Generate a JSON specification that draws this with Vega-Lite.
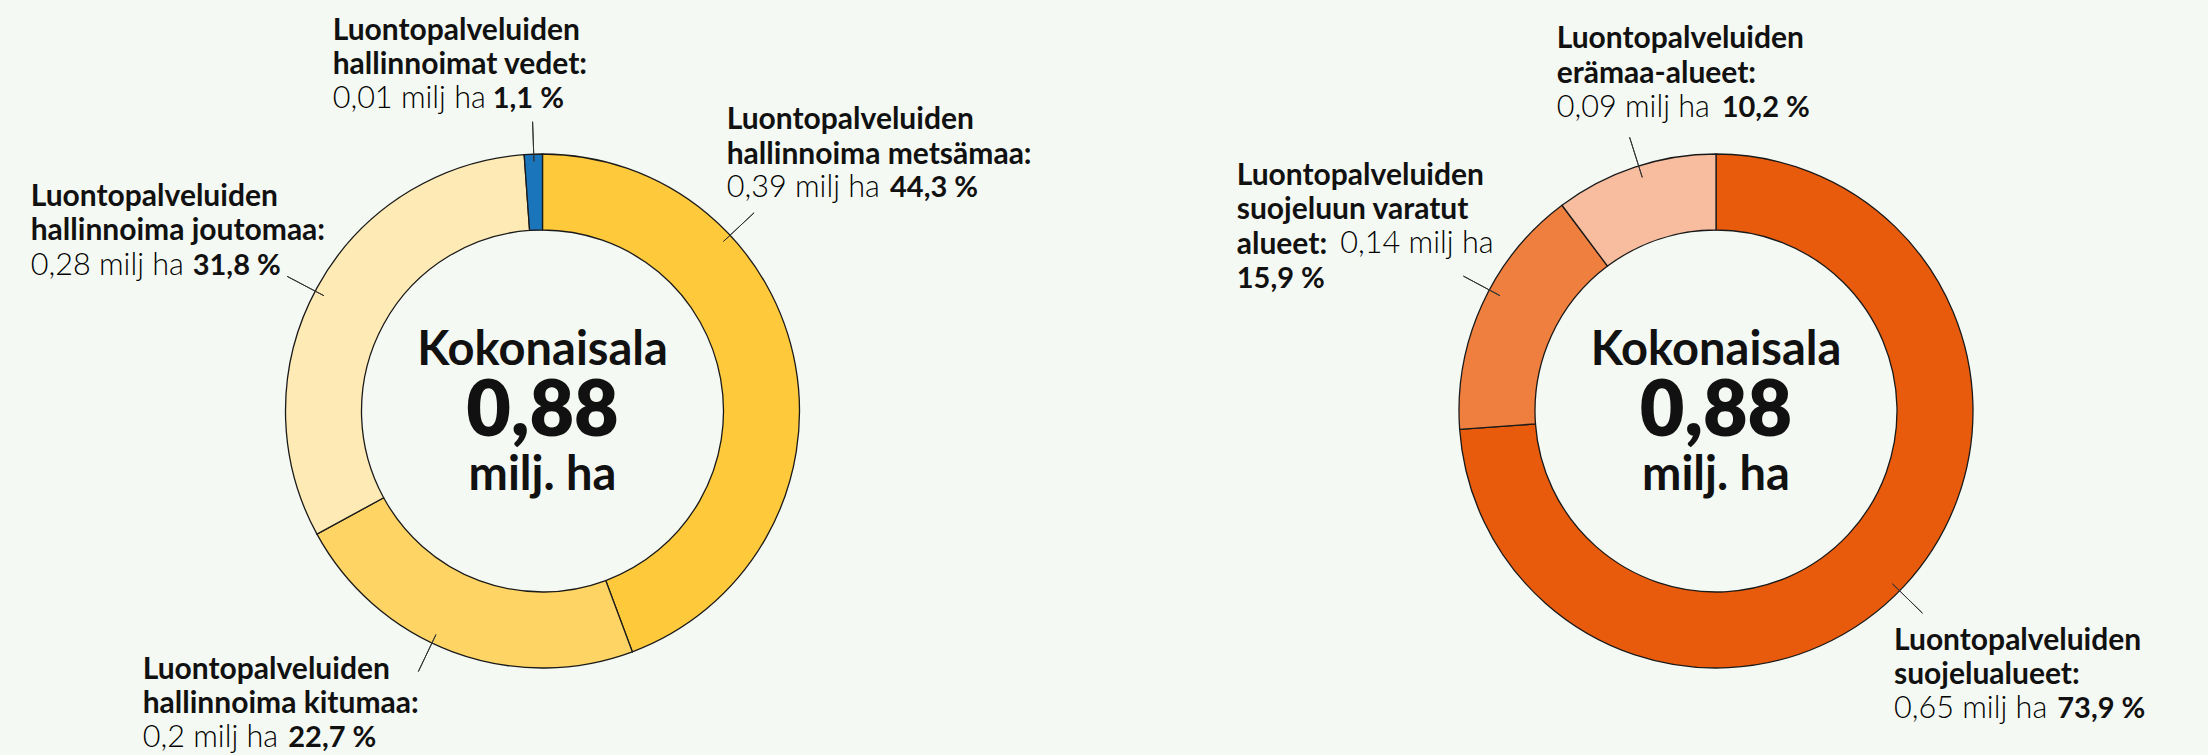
{
  "$schema": "https://vega.github.io/schema/vega-lite/v6.json",
  "width": 2208,
  "height": 688,
  "autosize": {"type": "none"},
  "padding": {"top": 67, "left": 0, "right": 0, "bottom": 0},
  "background": "#f5f9f3",
  "config": {
    "view": {"stroke": null},
    "locale": {"number": {"decimal": ",", "thousands": " ", "grouping": [3], "currency": ["", " milj ha"], "percent": " %"}}
  },
  "data": {
    "values": [
      {"kartta": "hallinta", "n": 1, "id": "metsa", "nimi": "Luontopalveluiden\nhallinnoima metsämaa:", "ha": 0.39, "osuus": 0.443},
      {"kartta": "hallinta", "n": 2, "id": "kitu", "nimi": "Luontopalveluiden\nhallinnoima kitumaa:", "ha": 0.2, "osuus": 0.227},
      {"kartta": "hallinta", "n": 3, "id": "jouto", "nimi": "Luontopalveluiden\nhallinnoima joutomaa:", "ha": 0.28, "osuus": 0.318},
      {"kartta": "hallinta", "n": 4, "id": "vedet", "nimi": "Luontopalveluiden\nhallinnoimat vedet:", "ha": 0.01, "osuus": 0.011},
      {"kartta": "suojelu", "n": 1, "id": "suojelu", "nimi": "Luontopalveluiden\nsuojelualueet:", "ha": 0.65, "osuus": 0.739},
      {"kartta": "suojelu", "n": 2, "id": "varattu", "nimi": "Luontopalveluiden\nsuojeluun varatut\nalueet:", "ha": 0.14, "osuus": 0.159},
      {"kartta": "suojelu", "n": 3, "id": "eramaa", "nimi": "Luontopalveluiden\nerämaa-alueet:", "ha": 0.09, "osuus": 0.102}
    ]
  },
  "transform": [
    {"stack": "ha", "groupby": ["kartta"], "sort": [{"field": "n", "order": "ascending"}], "as": ["s0", "s1"]}
  ],
  "encoding": {
    "x": {"field": "kartta", "type": "nominal", "axis": null, "scale": {"type": "point", "padding": 0.440775, "align": 0.52441, "round": false}}
  },
  "layer": [
    {
      "mark": {"type": "arc", "radius": 257, "radius2": 181, "stroke": "#1a1a1a", "strokeWidth": 1.3},
      "encoding": {
        "theta": {"field": "s0", "type": "quantitative", "stack": null, "scale": {"domain": [0, 0.88]}},
        "theta2": {"field": "s1"},
        "color": {"field": "id", "type": "nominal", "legend": null,
          "scale": {"domain": ["metsa", "kitu", "jouto", "vedet", "suojelu", "varattu", "eramaa"],
                    "range": ["#fec93b", "#fed565", "#feeab4", "#1b75bb", "#e95b0c", "#ee7f3f", "#f8bd9f"]}}
      }
    },
    {"transform": [{"filter": "datum.id === 'metsa'"}],
     "mark": {"type": "arc", "radius": 290, "radius2": 248, "thetaOffset": 0.8179, "theta2Offset": 0.8179, "stroke": "#333333", "strokeWidth": 1, "fillOpacity": 0},
     "encoding": {"theta": {"field": "s0", "type": "quantitative", "stack": null}, "theta2": {"field": "s0"}}},
    {"transform": [{"filter": "datum.id === 'kitu'"}],
     "mark": {"type": "arc", "radius": 288.6, "radius2": 247.6, "thetaOffset": 0.8017, "theta2Offset": 0.8017, "stroke": "#333333", "strokeWidth": 1, "fillOpacity": 0},
     "encoding": {"theta": {"field": "s0", "type": "quantitative", "stack": null}, "theta2": {"field": "s0"}}},
    {"transform": [{"filter": "datum.id === 'jouto'"}],
     "mark": {"type": "arc", "radius": 288.8, "radius2": 247, "thetaOffset": 0.98505, "theta2Offset": 0.98505, "stroke": "#333333", "strokeWidth": 1, "fillOpacity": 0},
     "encoding": {"theta": {"field": "s0", "type": "quantitative", "stack": null}, "theta2": {"field": "s0"}}},
    {"transform": [{"filter": "datum.id === 'vedet'"}],
     "mark": {"type": "arc", "radius": 289.5, "radius2": 249.7, "thetaOffset": 0.03718, "theta2Offset": 0.03718, "stroke": "#333333", "strokeWidth": 1, "fillOpacity": 0},
     "encoding": {"theta": {"field": "s0", "type": "quantitative", "stack": null}, "theta2": {"field": "s0"}}},
    {"transform": [{"filter": "datum.id === 'suojelu'"}],
     "mark": {"type": "arc", "radius": 289, "radius2": 247, "thetaOffset": 2.34572, "theta2Offset": 2.34572, "stroke": "#333333", "strokeWidth": 1, "fillOpacity": 0},
     "encoding": {"theta": {"field": "s0", "type": "quantitative", "stack": null}, "theta2": {"field": "s0"}}},
    {"transform": [{"filter": "datum.id === 'varattu'"}],
     "mark": {"type": "arc", "radius": 286.4, "radius2": 244.9, "thetaOffset": 0.56182, "theta2Offset": 0.56182, "stroke": "#333333", "strokeWidth": 1, "fillOpacity": 0},
     "encoding": {"theta": {"field": "s0", "type": "quantitative", "stack": null}, "theta2": {"field": "s0"}}},
    {"transform": [{"filter": "datum.id === 'eramaa'"}],
     "mark": {"type": "arc", "radius": 287, "radius2": 245, "thetaOffset": 0.33685, "theta2Offset": 0.33685, "stroke": "#333333", "strokeWidth": 1, "fillOpacity": 0},
     "encoding": {"theta": {"field": "s0", "type": "quantitative", "stack": null}, "theta2": {"field": "s0"}}},

    {"transform": [{"filter": "datum.id === 'vedet'"}],
     "mark": {"type": "text", "font": "Lato", "fontSize": 30, "fontWeight": 700, "align": "left", "baseline": "alphabetic", "lineBreak": "\n", "lineHeight": 34.3, "radius": 289, "dx": -189.2, "dy": -82.7, "color": "#111111"},
     "encoding": {"theta": {"field": "s0", "type": "quantitative", "stack": null}, "text": {"field": "nimi"}}},
    {"transform": [{"filter": "datum.id === 'vedet'"}],
     "mark": {"type": "text", "font": "Lato", "fontSize": 30.6, "fontWeight": 300, "align": "left", "baseline": "alphabetic", "radius": 289, "dx": -189.2, "dy": -14.4, "color": "#000000"},
     "encoding": {"theta": {"field": "s0", "type": "quantitative", "stack": null}, "text": {"field": "ha", "type": "quantitative", "format": "$.2~f"}}},
    {"transform": [{"filter": "datum.id === 'vedet'"}],
     "mark": {"type": "text", "font": "Lato", "fontSize": 29, "fontWeight": 700, "align": "left", "baseline": "alphabetic", "radius": 289, "dx": -29.2, "dy": -14.4, "color": "#111111"},
     "encoding": {"theta": {"field": "s0", "type": "quantitative", "stack": null}, "text": {"field": "osuus", "type": "quantitative", "format": ".1%"}}},

    {"transform": [{"filter": "datum.id === 'metsa'"}],
     "mark": {"type": "text", "font": "Lato", "fontSize": 30, "fontWeight": 700, "align": "left", "baseline": "alphabetic", "lineBreak": "\n", "lineHeight": 34.3, "radius": 289, "dx": 184.2, "dy": 7.3, "color": "#111111"},
     "encoding": {"theta": {"field": "s0", "type": "quantitative", "stack": null}, "text": {"field": "nimi"}}},
    {"transform": [{"filter": "datum.id === 'metsa'"}],
     "mark": {"type": "text", "font": "Lato", "fontSize": 30.6, "fontWeight": 300, "align": "left", "baseline": "alphabetic", "radius": 289, "dx": 184.2, "dy": 75.3, "color": "#000000"},
     "encoding": {"theta": {"field": "s0", "type": "quantitative", "stack": null}, "text": {"field": "ha", "type": "quantitative", "format": "$.2~f"}}},
    {"transform": [{"filter": "datum.id === 'metsa'"}],
     "mark": {"type": "text", "font": "Lato", "fontSize": 29, "fontWeight": 700, "align": "left", "baseline": "alphabetic", "radius": 289, "dx": 347.5, "dy": 75.3, "color": "#111111"},
     "encoding": {"theta": {"field": "s0", "type": "quantitative", "stack": null}, "text": {"field": "osuus", "type": "quantitative", "format": ".1%"}}},

    {"transform": [{"filter": "datum.id === 'jouto'"}],
     "mark": {"type": "text", "font": "Lato", "fontSize": 30, "fontWeight": 700, "align": "left", "baseline": "alphabetic", "lineBreak": "\n", "lineHeight": 34.3, "radius": 289, "dx": -258.15, "dy": -343.8, "color": "#111111"},
     "encoding": {"theta": {"field": "s0", "type": "quantitative", "stack": null}, "text": {"field": "nimi"}}},
    {"transform": [{"filter": "datum.id === 'jouto'"}],
     "mark": {"type": "text", "font": "Lato", "fontSize": 30.6, "fontWeight": 300, "align": "left", "baseline": "alphabetic", "radius": 289, "dx": -258.15, "dy": -274.5, "color": "#000000"},
     "encoding": {"theta": {"field": "s0", "type": "quantitative", "stack": null}, "text": {"field": "ha", "type": "quantitative", "format": "$.2~f"}}},
    {"transform": [{"filter": "datum.id === 'jouto'"}],
     "mark": {"type": "text", "font": "Lato", "fontSize": 29, "fontWeight": 700, "align": "left", "baseline": "alphabetic", "radius": 289, "dx": -96.15, "dy": -274.5, "color": "#111111"},
     "encoding": {"theta": {"field": "s0", "type": "quantitative", "stack": null}, "text": {"field": "osuus", "type": "quantitative", "format": ".1%"}}},

    {"transform": [{"filter": "datum.id === 'kitu'"}],
     "mark": {"type": "text", "font": "Lato", "fontSize": 30, "fontWeight": 700, "align": "left", "baseline": "alphabetic", "lineBreak": "\n", "lineHeight": 34.3, "radius": 289, "dx": -500.8, "dy": -2.6, "color": "#111111"},
     "encoding": {"theta": {"field": "s0", "type": "quantitative", "stack": null}, "text": {"field": "nimi"}}},
    {"transform": [{"filter": "datum.id === 'kitu'"}],
     "mark": {"type": "text", "font": "Lato", "fontSize": 30.6, "fontWeight": 300, "align": "left", "baseline": "alphabetic", "radius": 289, "dx": -500.8, "dy": 65.7, "color": "#000000"},
     "encoding": {"theta": {"field": "s0", "type": "quantitative", "stack": null}, "text": {"field": "ha", "type": "quantitative", "format": "$.2~f"}}},
    {"transform": [{"filter": "datum.id === 'kitu'"}],
     "mark": {"type": "text", "font": "Lato", "fontSize": 29, "fontWeight": 700, "align": "left", "baseline": "alphabetic", "radius": 289, "dx": -355.2, "dy": 65.7, "color": "#111111"},
     "encoding": {"theta": {"field": "s0", "type": "quantitative", "stack": null}, "text": {"field": "osuus", "type": "quantitative", "format": ".1%"}}},

    {"transform": [{"filter": "datum.id === 'eramaa'"}],
     "mark": {"type": "text", "font": "Lato", "fontSize": 30, "fontWeight": 700, "align": "left", "baseline": "alphabetic", "lineBreak": "\n", "lineHeight": 34.3, "radius": 289, "dx": 13.9, "dy": -131.4, "color": "#111111"},
     "encoding": {"theta": {"field": "s0", "type": "quantitative", "stack": null}, "text": {"field": "nimi"}}},
    {"transform": [{"filter": "datum.id === 'eramaa'"}],
     "mark": {"type": "text", "font": "Lato", "fontSize": 30.6, "fontWeight": 300, "align": "left", "baseline": "alphabetic", "radius": 289, "dx": 13.9, "dy": -63.0, "color": "#000000"},
     "encoding": {"theta": {"field": "s0", "type": "quantitative", "stack": null}, "text": {"field": "ha", "type": "quantitative", "format": "$.2~f"}}},
    {"transform": [{"filter": "datum.id === 'eramaa'"}],
     "mark": {"type": "text", "font": "Lato", "fontSize": 29, "fontWeight": 700, "align": "left", "baseline": "alphabetic", "radius": 289, "dx": 178.9, "dy": -63.0, "color": "#111111"},
     "encoding": {"theta": {"field": "s0", "type": "quantitative", "stack": null}, "text": {"field": "osuus", "type": "quantitative", "format": ".1%"}}},

    {"transform": [{"filter": "datum.id === 'varattu'"}],
     "mark": {"type": "text", "font": "Lato", "fontSize": 30, "fontWeight": 700, "align": "left", "baseline": "alphabetic", "lineBreak": "\n", "lineHeight": 34.3, "radius": 289, "dx": -191.0, "dy": -246.6, "color": "#111111"},
     "encoding": {"theta": {"field": "s0", "type": "quantitative", "stack": null}, "text": {"field": "nimi"}}},
    {"transform": [{"filter": "datum.id === 'varattu'"}],
     "mark": {"type": "text", "font": "Lato", "fontSize": 30.6, "fontWeight": 300, "align": "left", "baseline": "alphabetic", "radius": 289, "dx": -87.4, "dy": -178.9, "color": "#000000"},
     "encoding": {"theta": {"field": "s0", "type": "quantitative", "stack": null}, "text": {"field": "ha", "type": "quantitative", "format": "$.2~f"}}},
    {"transform": [{"filter": "datum.id === 'varattu'"}],
     "mark": {"type": "text", "font": "Lato", "fontSize": 29, "fontWeight": 700, "align": "left", "baseline": "alphabetic", "radius": 289, "dx": -191.0, "dy": -143.9, "color": "#111111"},
     "encoding": {"theta": {"field": "s0", "type": "quantitative", "stack": null}, "text": {"field": "osuus", "type": "quantitative", "format": ".1%"}}},

    {"transform": [{"filter": "datum.id === 'suojelu'"}],
     "mark": {"type": "text", "font": "Lato", "fontSize": 30, "fontWeight": 700, "align": "left", "baseline": "alphabetic", "lineBreak": "\n", "lineHeight": 34.3, "radius": 289, "dx": 178, "dy": 528.0, "color": "#111111"},
     "encoding": {"theta": {"field": "s0", "type": "quantitative", "stack": null}, "text": {"field": "nimi"}}},
    {"transform": [{"filter": "datum.id === 'suojelu'"}],
     "mark": {"type": "text", "font": "Lato", "fontSize": 30.6, "fontWeight": 300, "align": "left", "baseline": "alphabetic", "radius": 289, "dx": 178, "dy": 596.3, "color": "#000000"},
     "encoding": {"theta": {"field": "s0", "type": "quantitative", "stack": null}, "text": {"field": "ha", "type": "quantitative", "format": "$.2~f"}}},
    {"transform": [{"filter": "datum.id === 'suojelu'"}],
     "mark": {"type": "text", "font": "Lato", "fontSize": 29, "fontWeight": 700, "align": "left", "baseline": "alphabetic", "radius": 289, "dx": 341.3, "dy": 596.3, "color": "#111111"},
     "encoding": {"theta": {"field": "s0", "type": "quantitative", "stack": null}, "text": {"field": "osuus", "type": "quantitative", "format": ".1%"}}},

    {"transform": [{"aggregate": [{"op": "sum", "field": "ha", "as": "yhteensa"}], "groupby": ["kartta"]}],
     "mark": {"type": "text", "font": "Lato", "fontSize": 47, "fontWeight": 700, "align": "center", "baseline": "alphabetic", "dy": -46, "color": "#111111"},
     "encoding": {"text": {"value": "Kokonaisala"}}},
    {"transform": [{"aggregate": [{"op": "sum", "field": "ha", "as": "yhteensa"}], "groupby": ["kartta"]}],
     "mark": {"type": "text", "font": "Lato", "fontSize": 77, "fontWeight": 800, "align": "center", "baseline": "alphabetic", "dy": 25, "color": "#111111"},
     "encoding": {"text": {"field": "yhteensa", "type": "quantitative", "format": ".2f"}}},
    {"transform": [{"aggregate": [{"op": "sum", "field": "ha", "as": "yhteensa"}], "groupby": ["kartta"]}],
     "mark": {"type": "text", "font": "Lato", "fontSize": 47, "fontWeight": 700, "align": "center", "baseline": "alphabetic", "dy": 79, "color": "#111111"},
     "encoding": {"text": {"value": "milj. ha"}}}
  ]
}
